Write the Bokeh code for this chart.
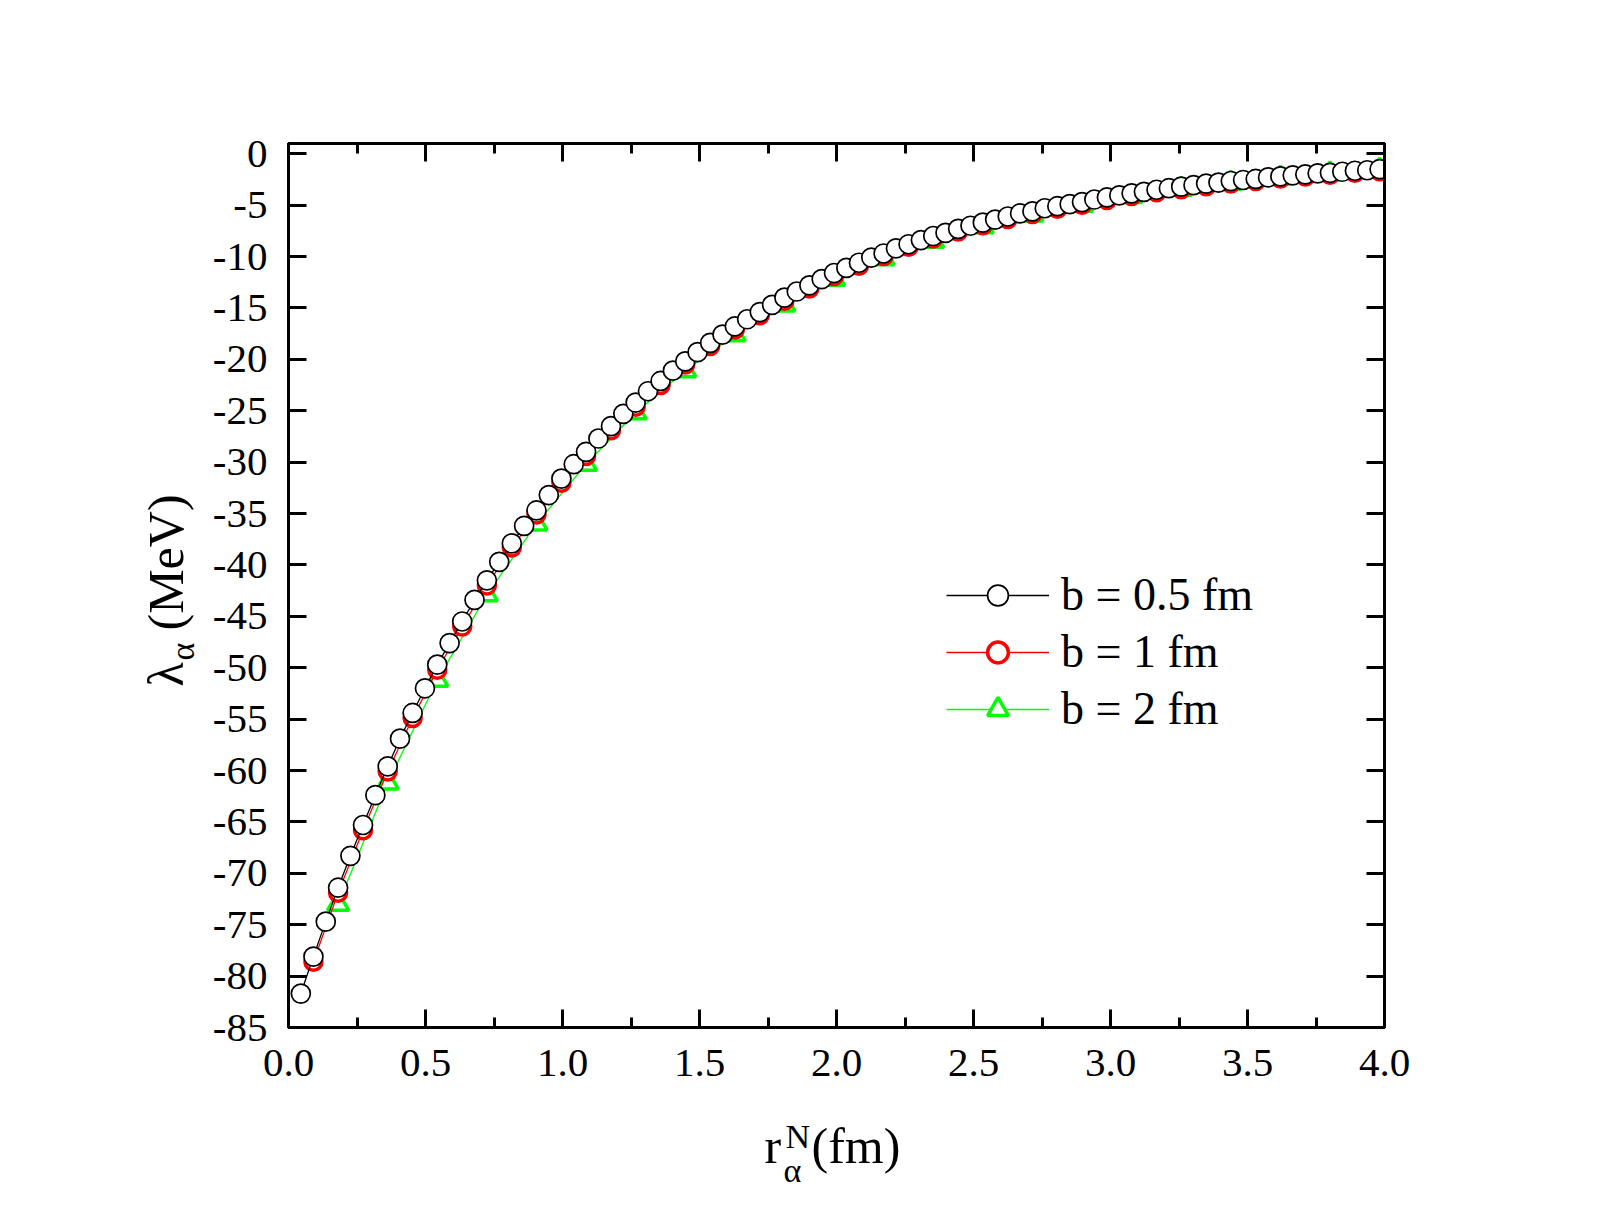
import math

from bokeh.plotting import figure
from bokeh.models import (Label, Legend, LegendItem, LinearAxis, NumeralTickFormatter,
                          SingleIntervalTicker)
from bokeh.embed import file_html
from bokeh.resources import INLINE

# --- data -----------------------------------------------------------------
# r_alpha^N (fm) sampling for b = 0.5 fm
r_b05 = [0.045, 0.091, 0.136, 0.181, 0.226, 0.272, 0.317, 0.362, 0.407, 0.453,
         0.498, 0.543, 0.588, 0.634, 0.679, 0.724, 0.769, 0.815, 0.860, 0.905,
         0.950, 0.996, 1.041, 1.086, 1.131, 1.177, 1.222, 1.267, 1.312, 1.358,
         1.403, 1.448, 1.493, 1.539, 1.584, 1.629, 1.674, 1.720, 1.765, 1.810,
         1.855, 1.901, 1.946, 1.991, 2.036, 2.082, 2.127, 2.172, 2.217, 2.263,
         2.308, 2.353, 2.398, 2.444, 2.489, 2.534, 2.579, 2.625, 2.670, 2.715,
         2.760, 2.806, 2.851, 2.896, 2.941, 2.987, 3.032, 3.077, 3.122, 3.168,
         3.213, 3.258, 3.303, 3.349, 3.394, 3.439, 3.484, 3.530, 3.575, 3.620,
         3.665, 3.711, 3.756, 3.801, 3.846, 3.892, 3.937, 3.982]
lam_b05 = [-81.7, -78.1, -74.7, -71.4, -68.3, -65.3, -62.4, -59.6, -56.9, -54.4,
           -52.0, -49.7, -47.6, -45.5, -43.4, -41.5, -39.7, -37.9, -36.2, -34.7,
           -33.2, -31.6, -30.2, -29.0, -27.7, -26.5, -25.3, -24.2, -23.1, -22.1,
           -21.1, -20.2, -19.3, -18.4, -17.6, -16.8, -16.1, -15.4, -14.7, -14.0,
           -13.4, -12.8, -12.2, -11.6, -11.1, -10.6, -10.1, -9.7, -9.2, -8.8,
           -8.4, -8.0, -7.7, -7.3, -7.0, -6.7, -6.4, -6.1, -5.8, -5.6,
           -5.3, -5.1, -4.9, -4.7, -4.45, -4.25, -4.05, -3.85, -3.7, -3.5,
           -3.35, -3.2, -3.05, -2.9, -2.8, -2.65, -2.55, -2.45, -2.3, -2.2,
           -2.1, -2.0, -1.9, -1.85, -1.75, -1.65, -1.6, -1.5]

# b = 1 fm
r_b1 = [0.091, 0.181, 0.272, 0.362, 0.453, 0.543, 0.634, 0.724, 0.815, 0.905,
        0.996, 1.086, 1.177, 1.267, 1.358, 1.448, 1.539, 1.629, 1.720, 1.810,
        1.901, 1.991, 2.082, 2.172, 2.263, 2.353, 2.444, 2.534, 2.625, 2.715,
        2.806, 2.896, 2.987, 3.077, 3.168, 3.258, 3.349, 3.439, 3.530, 3.620,
        3.711, 3.801, 3.892, 3.982]
lam_b1 = [-78.6, -71.9, -65.8, -60.1, -54.9, -50.2, -46.0, -42.0, -38.3, -35.1,
          -32.0, -29.4, -26.9, -24.6, -22.5, -20.5, -18.7, -17.1, -15.7, -14.3,
          -13.1, -11.9, -10.9, -9.95, -9.05, -8.25, -7.55, -6.95, -6.35, -5.85,
          -5.35, -4.95, -4.5, -4.1, -3.75, -3.45, -3.15, -2.9, -2.65, -2.4,
          -2.2, -2.05, -1.85, -1.7]

# b = 2 fm
r_b2 = [0.181, 0.362, 0.543, 0.724, 0.905, 1.086, 1.267, 1.448, 1.629, 1.810,
        1.991, 2.172, 2.353, 2.534, 2.715, 2.896, 3.077, 3.258, 3.439, 3.620,
        3.801, 3.982]
lam_b2 = [-73.0, -61.2, -51.2, -42.9, -36.0, -30.2, -25.2, -21.1, -17.6, -14.7,
          -12.2, -10.2, -8.5, -7.1, -5.95, -5.0, -4.15, -3.45, -2.85, -2.35,
          -1.95, -1.6]

series_labels = ["b = 0.5 fm", "b = 1 fm", "b = 2 fm"]

SERIF = "Liberation Serif"

# --- frame geometry (px) --------------------------------------------------
W, H = 1609, 1232
LEFT, RIGHT, TOP, BOTTOM = 288, 225, 143, 205
X0, X1 = 0.0, 4.0
Y0, Y1 = -85.0, 1.0
FW = W - LEFT - RIGHT
FH = H - TOP - BOTTOM


def at_x(px):
    """canvas pixel column -> data x"""
    return X0 + (px - LEFT) * (X1 - X0) / FW


def at_y(py):
    """canvas pixel row -> data y"""
    return Y1 - (py - TOP) * (Y1 - Y0) / FH


p = figure(width=W, height=H, x_range=(X0, X1), y_range=(Y0, Y1),
           output_backend="svg", toolbar_location=None,
           min_border_left=LEFT, min_border_right=RIGHT,
           min_border_top=TOP, min_border_bottom=BOTTOM,
           x_axis_type=None, y_axis_type=None)
p.xgrid.visible = False
p.ygrid.visible = False
p.outline_line_color = "black"
p.outline_line_width = 3
p.background_fill_color = "white"
p.border_fill_color = "white"


def make_axis(kind, labelled):
    if kind == "x":
        ticker = SingleIntervalTicker(interval=0.5, num_minor_ticks=2)
        fmt = NumeralTickFormatter(format="0.0")
    else:
        ticker = SingleIntervalTicker(interval=5, num_minor_ticks=0)
        fmt = NumeralTickFormatter(format="0")
    ax = LinearAxis(ticker=ticker, formatter=fmt)
    ax.axis_line_width = 3
    ax.axis_line_color = "black"
    ax.major_tick_in = 18
    ax.major_tick_out = 0
    ax.major_tick_line_width = 3
    ax.minor_tick_in = 10
    ax.minor_tick_out = 0
    ax.minor_tick_line_width = 3
    if kind == "y":
        ax.minor_tick_line_color = None
    ax.major_label_text_font = SERIF
    ax.major_label_text_font_size = "41px"
    ax.major_label_text_color = "black" if labelled else None
    ax.major_label_standoff = 22 if kind == "x" else 21
    return ax


p.add_layout(make_axis("x", True), "below")
p.add_layout(make_axis("x", False), "above")
p.add_layout(make_axis("y", True), "left")
p.add_layout(make_axis("y", False), "right")

# --- curves ---------------------------------------------------------------
g_line = p.line(r_b2, lam_b2, line_color="#00ff00", line_width=1.3)
g_mark = p.scatter(r_b2, lam_b2, marker="triangle", size=21,
                   line_color="#00ff00", line_width=3.5, fill_color="white")
r_line = p.line(r_b1, lam_b1, line_color="#ff0000", line_width=1.3)
r_mark = p.scatter(r_b1, lam_b1, marker="circle", size=17,
                   line_color="#ff0000", line_width=3.5, fill_color="white")
k_line = p.line(r_b05, lam_b05, line_color="black", line_width=1.3)
k_mark = p.scatter(r_b05, lam_b05, marker="circle", size=19,
                   line_color="black", line_width=1.7, fill_color="white")

legend = Legend(items=[
    LegendItem(label=series_labels[0], renderers=[k_line, k_mark]),
    LegendItem(label=series_labels[1], renderers=[r_line, r_mark]),
    LegendItem(label=series_labels[2], renderers=[g_line, g_mark]),
], location=(658, 292))
legend.glyph_width = 103
legend.glyph_height = 52
legend.label_height = 52
legend.spacing = 4
legend.padding = 0
legend.margin = 0
legend.label_standoff = 12
legend.label_text_font = SERIF
legend.label_text_font_size = "46px"
legend.label_text_color = "black"
legend.border_line_color = None
legend.background_fill_alpha = 0
p.add_layout(legend, "center")

# --- axis titles with sub/superscripts -----------------------------------
# (spread over the side panels so the frame keeps its size)
big, small = "50px", "34px"


def put(text, px, py, size, side, angle=0.0):
    p.add_layout(Label(x=at_x(px), y=at_y(py), text=text, angle=angle,
                       text_font=SERIF, text_font_size=size,
                       text_align="left", text_baseline="alphabetic",
                       text_color="black"), side)


# x title: r_alpha^N (fm)
put("r", 764, 1145, big, "below")
put("(fm)", 811, 1145, big, "below")
put("α", 783, 1170, small, "right")
put("N", 785, 1136, small, "right")

# y title: lambda_alpha (MeV), rotated
up = math.pi / 2
put("λ", 165, 686, big, "left", up)
put("α", 182, 660, small, "left", up)
put("(MeV)", 165, 630, big, "left", up)

open("out.html", "w").write(file_html(p, INLINE))
